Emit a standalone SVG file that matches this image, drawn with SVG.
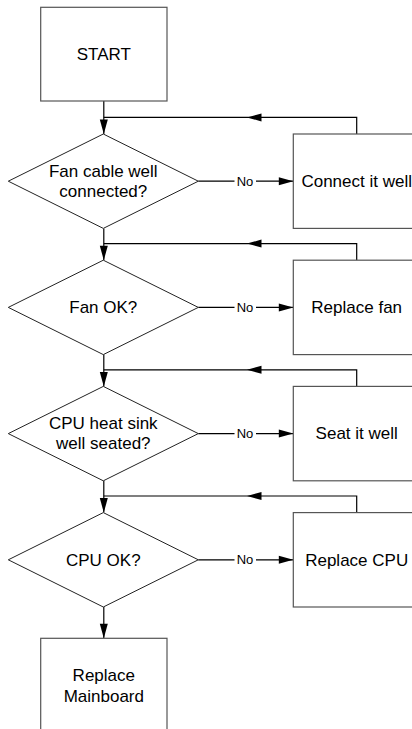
<svg xmlns="http://www.w3.org/2000/svg" width="412" height="729" viewBox="0 0 412 729">
<defs>
<marker id="ah" markerUnits="userSpaceOnUse" markerWidth="15" markerHeight="8" refX="14.5" refY="4" orient="auto" overflow="visible">
<path d="M0,0 L14.5,4 L0,8 z" fill="#000"/>
</marker>
<style>
.box{fill:#fff;stroke:#555;stroke-width:1.2}
.dia{fill:#fff;stroke:#222;stroke-width:1}
.ln{fill:none;stroke:#000;stroke-width:1.2}
.t{font-family:"Liberation Sans",Arial,sans-serif;font-size:17px;fill:#000;text-anchor:middle}
.no{font-family:"Liberation Sans",Arial,sans-serif;font-size:13px;fill:#000;text-anchor:middle}
</style>
</defs>
<rect width="412" height="729" fill="#fff"/>
<g id="connectors">
<path class="ln" d="M103.8,101 V134" marker-end="url(#ah)"/>
<path class="ln" d="M103.8,228.4 V260.2" marker-end="url(#ah)"/>
<path class="ln" d="M103.8,354.6 V386.4" marker-end="url(#ah)"/>
<path class="ln" d="M103.8,480.8 V512.6" marker-end="url(#ah)"/>
<path class="ln" d="M103.8,607 V638.3" marker-end="url(#ah)"/>
<path class="ln" d="M356.7,134 V117.4 H247" marker-end="url(#ah)"/>
<path class="ln" d="M247,117.4 H103.8"/>
<path class="ln" d="M356.7,260.2 V243.6 H247" marker-end="url(#ah)"/>
<path class="ln" d="M247,243.6 H103.8"/>
<path class="ln" d="M356.7,386.4 V369.8 H247" marker-end="url(#ah)"/>
<path class="ln" d="M247,369.8 H103.8"/>
<path class="ln" d="M356.7,512.6 V496 H247" marker-end="url(#ah)"/>
<path class="ln" d="M247,496 H103.8"/>
<path class="ln" d="M198.3,181.2 H234.5 M256,181.2 H293.3" marker-end="url(#ah)"/>
<text class="no" x="245" y="185.8">No</text>
<path class="ln" d="M198.3,307.4 H234.5 M256,307.4 H293.3" marker-end="url(#ah)"/>
<text class="no" x="245" y="312">No</text>
<path class="ln" d="M198.3,433.6 H234.5 M256,433.6 H293.3" marker-end="url(#ah)"/>
<text class="no" x="245" y="438.2">No</text>
<path class="ln" d="M198.3,559.8 H234.5 M256,559.8 H293.3" marker-end="url(#ah)"/>
<text class="no" x="245" y="564.4">No</text>
</g>
<g id="start">
<rect class="box" x="40.7" y="7.3" width="126.3" height="93.7"/>
<text class="t" x="103.8" y="60">START</text>
</g>
<g id="d1">
<path class="dia" d="M103.3,134 L198.3,181.2 L103.3,228.4 L8.3,181.2 Z"/>
<text class="t" x="103.3" y="176.8">Fan cable well</text>
<text class="t" x="103.3" y="196.8">connected?</text>
</g>
<g id="b1">
<rect class="box" x="293.3" y="134" width="127" height="94.4"/>
<text class="t" x="356.7" y="186.8">Connect it well</text>
</g>
<g id="d2">
<path class="dia" d="M103.3,260.2 L198.3,307.4 L103.3,354.6 L8.3,307.4 Z"/>
<text class="t" x="103.3" y="313">Fan OK?</text>
</g>
<g id="b2">
<rect class="box" x="293.3" y="260.2" width="127" height="94.4"/>
<text class="t" x="356.7" y="313">Replace fan</text>
</g>
<g id="d3">
<path class="dia" d="M103.3,386.4 L198.3,433.6 L103.3,480.8 L8.3,433.6 Z"/>
<text class="t" x="103.3" y="428.6">CPU heat sink</text>
<text class="t" x="103.3" y="448.6">well seated?</text>
</g>
<g id="b3">
<rect class="box" x="293.3" y="386.4" width="127" height="94.4"/>
<text class="t" x="356.7" y="439.2">Seat it well</text>
</g>
<g id="d4">
<path class="dia" d="M103.3,512.6 L198.3,559.8 L103.3,607 L8.3,559.8 Z"/>
<text class="t" x="103.3" y="565.8">CPU OK?</text>
</g>
<g id="b4">
<rect class="box" x="293.3" y="512.6" width="127" height="94.4"/>
<text class="t" x="356.7" y="565.8">Replace CPU</text>
</g>
<g id="end">
<rect class="box" x="40.7" y="638.3" width="126.3" height="94"/>
<text class="t" x="103.8" y="681">Replace</text>
<text class="t" x="103.8" y="701.5">Mainboard</text>
</g>
</svg>
